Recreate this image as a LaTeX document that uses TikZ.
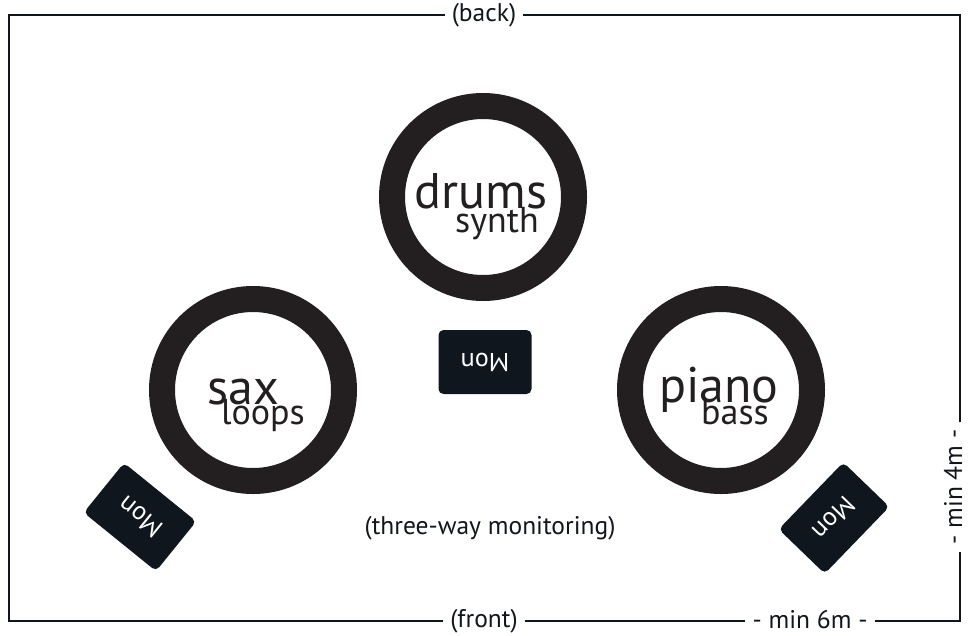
\documentclass[tikz,border=0pt]{standalone}
\usepackage{fontspec}
\setmainfont{PT Sans}
\definecolor{ringblack}{RGB}{35,31,32}
\definecolor{monblue}{RGB}{16,22,30}
\definecolor{wallblack}{RGB}{17,22,28}
\begin{document}
\begin{tikzpicture}[x=1pt,y=-1pt]
        \tikzstyle{ring}=[circle,draw=ringblack,line width=26pt,minimum size=182pt,inner sep=0pt]
        \tikzstyle{mon}=[rectangle,rounded corners=5pt,fill=monblue,text=white,minimum width=93pt,minimum height=64pt,font=\fontsize{26}{26}\selectfont]
        \tikzstyle{instr}=[anchor=base,text=ringblack,inner sep=0pt,font=\fontsize{50}{50}\selectfont]
        \tikzstyle{second}=[anchor=base,text=ringblack,inner sep=0pt,font=\fontsize{36}{36}\selectfont]
        \tikzstyle{roomlabel}=[text=wallblack,inner xsep=7pt,inner ysep=0pt,font=\fontsize{25.5}{25.5}\selectfont]
        \tikzstyle{wall}=[draw=wallblack,line width=2.8pt]
        \useasboundingbox (0,0) rectangle (968,635);
        \begin{scope}
            % stage outline
            \coordinate (tl) at (9,15);
            \coordinate (tr) at (960,15);
            \coordinate (br) at (960,621);
            \coordinate (bl) at (9,621);
            \node [roomlabel] (back) at (484,15) {(back)};
            \node [roomlabel] (front) at (484,621) {(front)};
            \node [roomlabel] (min6) at (810,620) {- min 6m -};
            \node [roomlabel,rotate=90] (min4) at (953,487) {- min 4m -};
            \path[wall] (back.west) -- (tl) -- (bl) -- (front.west);
            \path[wall] (front.east |- bl) -- (min6.west |- bl);
            \path[wall] (min6.east |- bl) -- (br) -- (br |- min4.west);
            \path[wall] (tr |- min4.east) -- (tr) -- (back.east);
        \end{scope}
        \begin{scope}
            % players
            \node [ring] (drums) at (483,197) {};
            \node [ring] (sax) at (253,390) {};
            \node [ring] (piano) at (721,390) {};
            \node [instr] (drumsname) at (481,208) {drums};
            \node [second] (synthname) at (497,232) {synth};
            \node [instr] (saxname) at (243,404) {sax};
            \node [second] (loopsname) at (263,424) {loops};
            \node [instr] (pianoname) at (719,402) {piano};
            \node [second] (bassname) at (735,424) {bass};
        \end{scope}
        \begin{scope}
            % monitors
            \node [mon,rotate=180] (mondrums) at (485,362) {Mon};
            \node [mon,rotate=141] (monsax) at (140,517) {Mon};
            \node [mon,rotate=226] (monpiano) at (834,518) {Mon};
            \node [roomlabel] (monitoring) at (490,528) {(three-way monitoring)};
        \end{scope}
\end{tikzpicture}
\end{document}
